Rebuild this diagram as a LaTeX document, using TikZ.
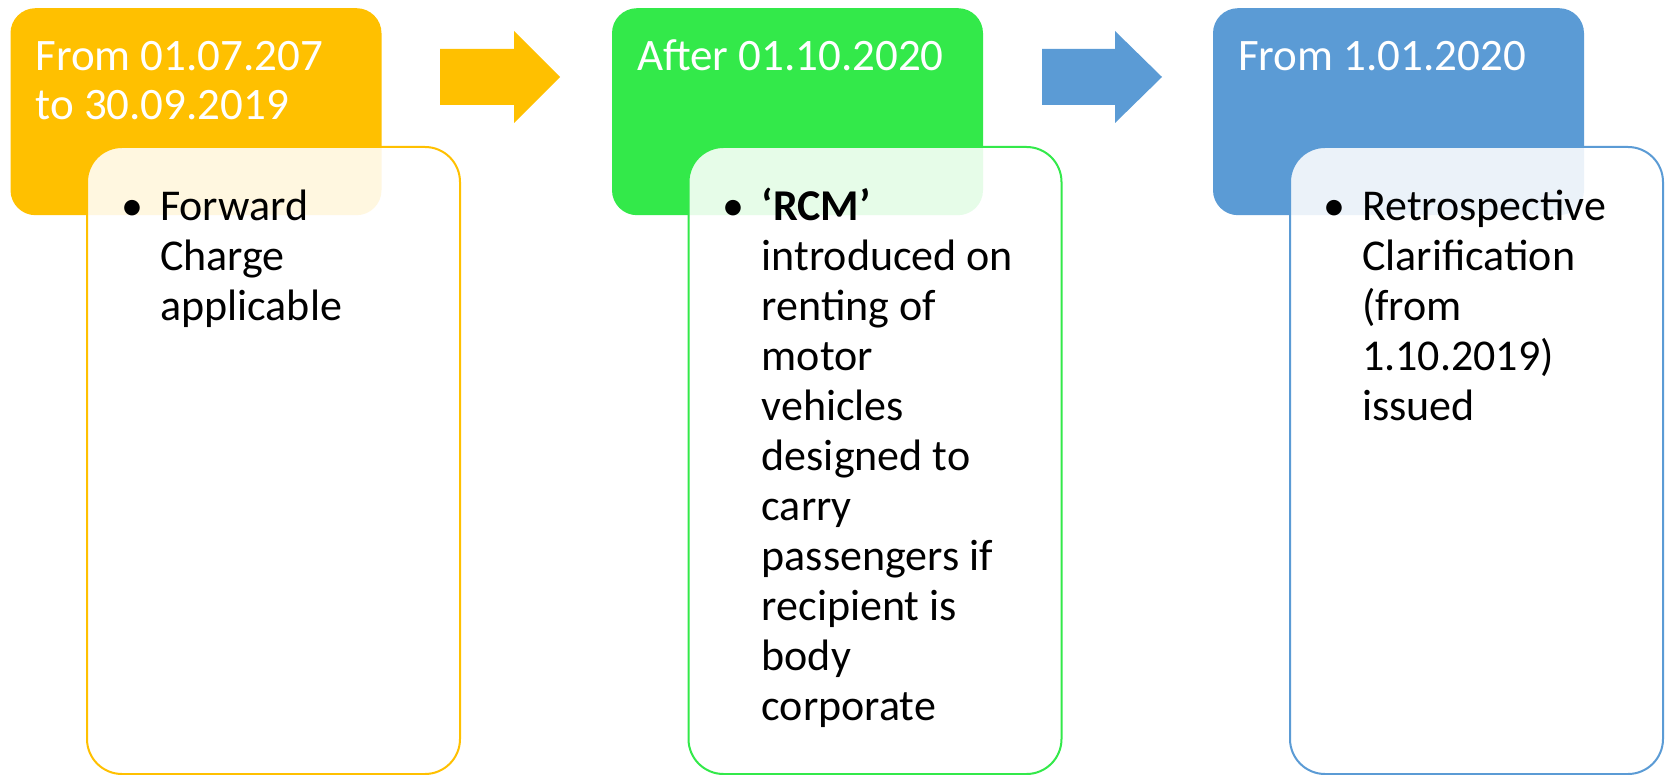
\documentclass[tikz,border=0pt]{standalone}
\usepackage{fontspec}
\setmainfont{Carlito}
\usetikzlibrary{calc}
\definecolor{cy}{RGB}{255,192,0}
\definecolor{cg}{RGB}{51,233,74}
\definecolor{cb}{RGB}{91,155,213}
\newcommand{\bul}{\llap{\makebox[56pt][c]{•}}}
\begin{document}
\begin{tikzpicture}[x=1pt,y=-1pt,
  hdr/.style={rectangle,rounded corners=25pt,minimum width=371pt,minimum height=207pt,inner sep=0pt,draw=none},
  bodybox/.style={rectangle,rounded corners=35pt,minimum width=373pt,minimum height=627pt,inner sep=0pt,fill=white,fill opacity=0.88,line width=2pt},
  htext/.style={anchor=base west,inner sep=0pt,text=white,font=\fontsize{45}{48.5}\selectfont},
  btext/.style={anchor=base west,inner sep=0pt,text=black,font=\fontsize{44}{50}\selectfont}]
\useasboundingbox (0,0) rectangle (1665,775);
% headers
\node[hdr,fill=cy] (h1) at (196,111.7) {};
\node[hdr,fill=cg] (h2) at (797.5,111.7) {};
\node[hdr,fill=cb] (h3) at (1398.5,111.7) {};
% block arrows
\fill[cy] (440,49) -- (514,49) -- (514,31) -- (560,77) -- (514,123) -- (514,105) -- (440,105) -- cycle;
\fill[cb] (1042,49) -- (1115,49) -- (1115,31) -- (1162,77) -- (1115,123) -- (1115,105) -- (1042,105) -- cycle;
% header texts
\node[htext] (ht1) at ($(h1.north west)+(25,63)$) {\begin{tabular}[t]{@{}l@{}}From 01.07.207\\to 30.09.2019\end{tabular}};
\node[htext] (ht2) at ($(h2.north west)+(25,63)$) {After 01.10.2020};
\node[htext] (ht3) at ($(h3.north west)+(25,63)$) {From 1.01.2020};
% bodies
\node[bodybox,draw=cy] (b1) at (273.5,460.5) {};
\node[bodybox,draw=cg] (b2) at (875,460.5) {};
\node[bodybox,draw=cb] (b3) at (1476.5,460.5) {};
% body texts
\node[btext] (bt1) at ($(b1.north west)+(74,75)$) {\begin{tabular}[t]{@{}l@{}}\bul Forward\\Charge\\applicable\end{tabular}};
\node[btext] (bt2) at ($(b2.north west)+(74,75)$) {\begin{tabular}[t]{@{}l@{}}\bul\textbf{‘RCM’}\\introduced on\\renting of\\motor\\vehicles\\designed to\\carry\\passengers if\\recipient is\\body\\corporate\end{tabular}};
\node[btext] (bt3) at ($(b3.north west)+(73,75)$) {\begin{tabular}[t]{@{}l@{}}\bul Retrospective\\Clarification\\(from\\1.10.2019)\\issued\end{tabular}};
\end{tikzpicture}
\end{document}
